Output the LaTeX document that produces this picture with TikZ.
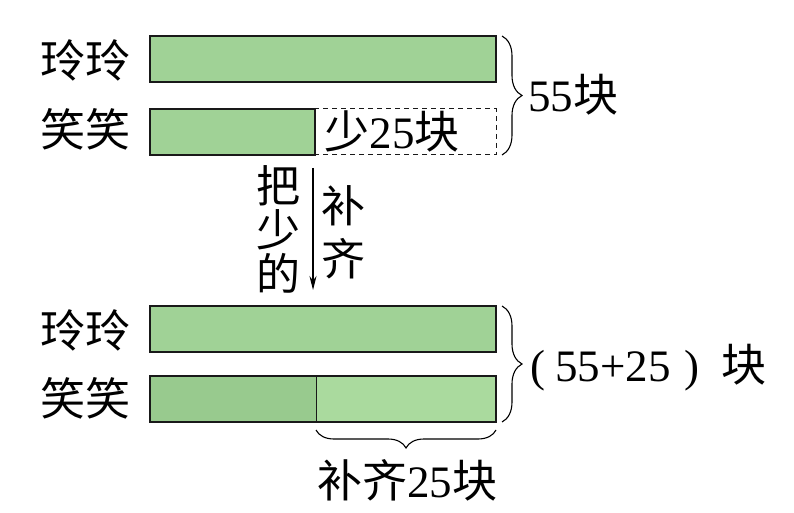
\documentclass[tikz,border=0pt]{standalone}
\usepackage{fontspec}
\setmainfont{Liberation Serif}
\newfontfamily\num{Liberation Serif}
\newfontfamily\cjk{Noto Sans CJK SC}
\usetikzlibrary{decorations.pathreplacing,arrows.meta}
\definecolor{bargreen}{RGB}{160,210,150}
\definecolor{barlight}{RGB}{170,218,158}
\definecolor{bardark}{RGB}{152,202,142}

\begin{document}
\begin{tikzpicture}[x=1pt,y=-1pt,
    bar/.style={draw=black!90,line width=1.3pt,fill=bargreen},
    txt/.style={inner sep=0pt,font=\fontsize{45}{46}\selectfont\num},
    brc/.style={decorate,decoration={brace,amplitude=20pt},line width=1.1pt}]
        \useasboundingbox (0,0) rectangle (794,513);

        % first picture
        \coordinate (A) at (150,36);
        \coordinate (B) at (496,82);
        \coordinate (C) at (150,109);
        \coordinate (D) at (315,155);
        \coordinate (E) at (496,155);

        \draw[bar] (A) rectangle (B);
        \draw[black!90,line width=1pt,dash pattern=on 5pt off 4pt] (D) rectangle (E |- C);
        \draw[bar] (C) rectangle (D);
        \draw[brc] (502,36) -- (502,155);

        \node[txt] (ling1) at (85,60) {\cjk 玲玲};
        \node[txt] (xiao1) at (85,129) {\cjk 笑笑};
        \node[txt] (shao) at (392,131) {{\cjk 少}25{\cjk 块}};
        \node[txt,anchor=west] (sum1) at (528,95) {55{\cjk 块}};

        % arrow in the middle
        \coordinate (P) at (313,168);
        \coordinate (Q) at (313,290);
        \draw[line width=1.1pt,-{Stealth[length=14pt,width=7pt]}] (P) -- (Q);
        \node[txt,align=center,font=\fontsize{44}{44}\selectfont\cjk] (ba) at (278,229) {把\\少\\的};
        \node[txt,align=center,font=\fontsize{44}{53}\selectfont\cjk] (bu) at (343,232) {补\\齐};

        % second picture
        \coordinate (F) at (150,306);
        \coordinate (G) at (496,352);
        \coordinate (H) at (150,376);
        \coordinate (M) at (316,422);
        \coordinate (N) at (496,422);

        \draw[bar] (F) rectangle (G);
        \fill[bardark] (H) rectangle (M);
        \fill[barlight] (M) rectangle (N |- H);
        \draw[black!90,line width=1.3pt] (H) rectangle (N);
        \draw[black!90,line width=1pt] (M) -- (M |- H);
        \draw[brc] (502,306) -- (502,422);
        \draw[brc,decoration={brace,amplitude=18pt}] (496,430) -- (316,430);

        \node[txt] (ling2) at (85,330) {\cjk 玲玲};
        \node[txt] (xiao2) at (85,398) {\cjk 笑笑};
        \node[txt,anchor=west] (sum2) at (530,368) {(\hspace{10pt}55+25\hspace{14pt})\hspace{22pt}{\cjk 块}};
        \node[txt] (buqi) at (407,480) {{\cjk 补齐}25{\cjk 块}};
    \end{tikzpicture}
\end{document}
